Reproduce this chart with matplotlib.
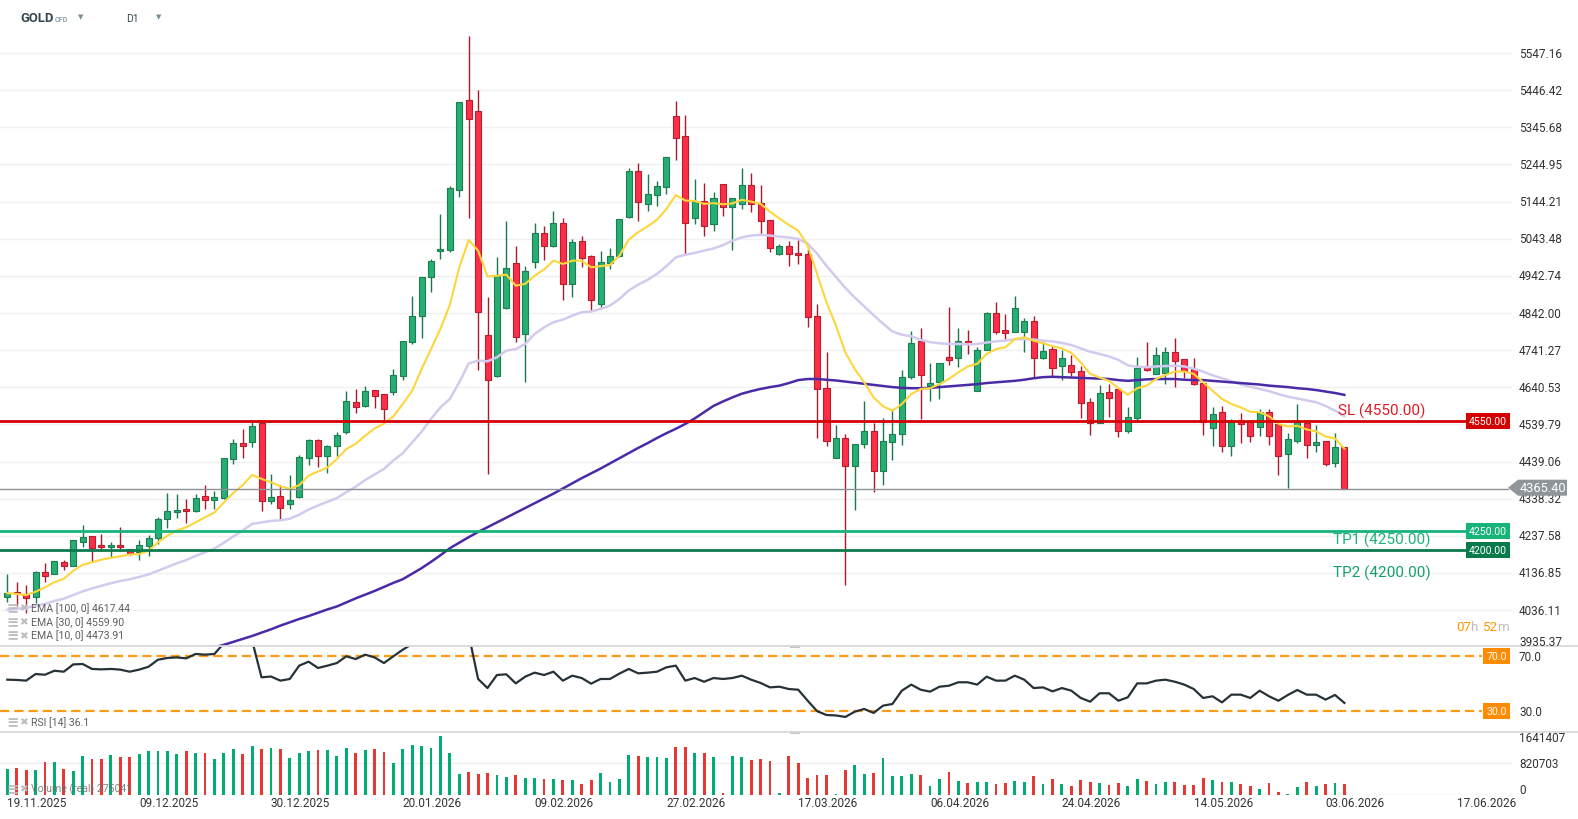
import numpy as np
import matplotlib
matplotlib.use("Agg")
import matplotlib.pyplot as plt
from matplotlib.transforms import blended_transform_factory as blend
from matplotlib.patches import Polygon, Rectangle

plt.rcParams['font.family'] = ['Roboto', 'DejaVu Sans']

# ---- data (daily candles, bar index 0 = 19.11.2025) ----
opens = [4071, 4086, 4080, 4073, 4140, 4134, 4166, 4157, 4222, 4237,
         4212, 4206, 4213, 4201, 4193, 4210, 4231, 4282, 4301, 4310,
         4304, 4345, 4334, 4339, 4446, 4489, 4493, 4544, 4333, 4345,
         4324, 4343, 4449, 4497, 4454, 4480, 4520, 4600, 4589, 4632,
         4621, 4627, 4670, 4762, 4833, 4939, 5009, 5012, 5176, 5420,
         5390, 4782, 4672, 4855, 4977, 4785, 4979, 5058, 5023, 5085,
         4922, 5036, 4996, 4866, 4978, 4996, 5103, 5226, 5139, 5161,
         5183, 5375, 5321, 5099, 5145, 5083, 5191, 5129, 5138, 5189,
         5140, 5095, 5002, 5025, 5004, 5001, 4833, 4638, 4448, 4502,
         4426, 4486, 4521, 4413, 4491, 4513, 4669, 4765, 4645, 4654,
         4722, 4719, 4767, 4631, 4743, 4841, 4797, 4790, 4790, 4821,
         4719, 4744, 4697, 4701, 4684, 4600, 4544, 4627, 4636, 4523,
         4556, 4695, 4677, 4680, 4735, 4717, 4690, 4651, 4529, 4573,
         4482, 4550, 4546, 4532, 4573, 4541, 4459, 4496, 4543, 4485,
         4495, 4435, 4478]
highs = [4134, 4113, 4103, 4143, 4163, 4170, 4172, 4226, 4267, 4238,
         4243, 4220, 4262, 4201, 4225, 4240, 4289, 4353, 4351, 4338,
         4350, 4376, 4360, 4449, 4500, 4527, 4553, 4552, 4405, 4376,
         4403, 4457, 4499, 4500, 4484, 4520, 4630, 4636, 4643, 4632,
         4621, 4690, 4765, 4889, 4939, 4988, 5110, 5187, 5413, 5594,
         5447, 4886, 4993, 5091, 5023, 4969, 5086, 5079, 5119, 5100,
         5044, 5050, 4999, 5010, 5019, 5096, 5235, 5249, 5219, 5201,
         5264, 5417, 5379, 5205, 5194, 5171, 5191, 5153, 5234, 5222,
         5189, 5095, 5030, 5037, 5041, 5016, 4866, 4737, 4538, 4514,
         4488, 4603, 4544, 4556, 4582, 4688, 4793, 4801, 4706, 4706,
         4858, 4800, 4796, 4749, 4846, 4871, 4838, 4887, 4828, 4833,
         4763, 4752, 4743, 4728, 4699, 4611, 4647, 4649, 4636, 4586,
         4722, 4764, 4749, 4749, 4773, 4717, 4719, 4651, 4586, 4591,
         4555, 4571, 4546, 4582, 4582, 4541, 4517, 4595, 4543, 4539,
         4495, 4517, 4478]
lows = [4059, 4048, 4028, 4056, 4113, 4133, 4146, 4155, 4208, 4166,
        4197, 4181, 4197, 4185, 4173, 4184, 4215, 4259, 4287, 4272,
        4303, 4310, 4310, 4338, 4432, 4450, 4478, 4306, 4324, 4281,
        4311, 4341, 4430, 4424, 4409, 4455, 4515, 4571, 4588, 4583,
        4544, 4620, 4661, 4758, 4773, 4900, 4988, 5007, 5156, 5101,
        4688, 4404, 4668, 4853, 4762, 4656, 4965, 4987, 5020, 4878,
        4886, 4966, 4847, 4856, 4960, 4994, 5099, 5092, 5119, 5131,
        5165, 5258, 5000, 5083, 5052, 5064, 5106, 5014, 5124, 5117,
        5057, 5008, 4998, 4969, 4974, 4805, 4504, 4480, 4448, 4103,
        4309, 4475, 4356, 4376, 4444, 4485, 4663, 4555, 4602, 4609,
        4701, 4695, 4731, 4631, 4743, 4785, 4772, 4790, 4737, 4668,
        4716, 4672, 4659, 4670, 4556, 4512, 4544, 4559, 4505, 4517,
        4547, 4686, 4677, 4649, 4640, 4665, 4647, 4511, 4482, 4466,
        4455, 4489, 4491, 4508, 4484, 4403, 4366, 4489, 4449, 4466,
        4428, 4425, 4365.4]
closes = [4082, 4083, 4068, 4140, 4130, 4169, 4157, 4225, 4234, 4205,
          4206, 4212, 4206, 4190, 4213, 4232, 4283, 4304, 4308, 4304,
          4341, 4334, 4342, 4448, 4489, 4480, 4535, 4333, 4343, 4314,
          4335, 4452, 4497, 4453, 4481, 4511, 4603, 4586, 4630, 4616,
          4581, 4673, 4765, 4833, 4939, 4982, 5016, 5180, 5413, 5368,
          4846, 4660, 4946, 4963, 4776, 4955, 5058, 5023, 5085, 4920,
          5034, 4990, 4876, 4979, 4996, 5096, 5226, 5142, 5165, 5186,
          5264, 5318, 5085, 5147, 5077, 5153, 5129, 5153, 5189, 5138,
          5092, 5017, 5025, 5001, 4998, 4830, 4636, 4494, 4502, 4426,
          4488, 4521, 4413, 4494, 4513, 4668, 4760, 4675, 4651, 4706,
          4715, 4767, 4758, 4741, 4842, 4790, 4789, 4855, 4821, 4719,
          4740, 4692, 4719, 4681, 4597, 4543, 4624, 4611, 4521, 4559,
          4692, 4687, 4727, 4735, 4713, 4686, 4649, 4546, 4568, 4480,
          4546, 4541, 4508, 4573, 4508, 4455, 4500, 4548, 4485, 4491,
          4433, 4478, 4365.4]

ema10 = [4082, 4080, 4077, 4086, 4098, 4112, 4121, 4143, 4159, 4166,
         4173, 4178, 4182, 4187, 4188, 4197, 4220, 4238, 4252, 4261,
         4274, 4288, 4301, 4328, 4354, 4375, 4403, 4392, 4383, 4372,
         4365, 4375, 4401, 4412, 4423, 4446, 4473, 4487, 4509, 4529,
         4542, 4562, 4595, 4631, 4690, 4744, 4799, 4864, 4966, 5040,
         5011, 4941, 4943, 4946, 4916, 4921, 4943, 4960, 4984, 4975,
         4984, 4984, 4966, 4969, 4972, 4997, 5041, 5061, 5077, 5095,
         5124, 5162, 5147, 5146, 5138, 5140, 5137, 5139, 5149, 5144,
         5138, 5117, 5098, 5081, 5065, 5025, 4948, 4871, 4808, 4735,
         4690, 4654, 4613, 4589, 4577, 4595, 4622, 4636, 4638, 4649,
         4663, 4681, 4697, 4704, 4731, 4744, 4749, 4771, 4776, 4767,
         4760, 4752, 4746, 4734, 4708, 4677, 4667, 4658, 4638, 4620,
         4638, 4645, 4663, 4674, 4683, 4683, 4677, 4654, 4631, 4609,
         4595, 4586, 4574, 4573, 4562, 4541, 4534, 4536, 4526, 4521,
         4507, 4502, 4474]
ema30 = [4037, 4040, 4042, 4048, 4053, 4061, 4067, 4077, 4087, 4095,
         4102, 4109, 4115, 4120, 4126, 4133, 4143, 4153, 4163, 4172,
         4183, 4193, 4203, 4219, 4236, 4252, 4270, 4274, 4278, 4280,
         4284, 4295, 4309, 4320, 4330, 4340, 4356, 4371, 4389, 4404,
         4419, 4442, 4462, 4491, 4520, 4555, 4586, 4609, 4654, 4705,
         4713, 4711, 4722, 4740, 4744, 4758, 4785, 4803, 4817, 4824,
         4835, 4844, 4846, 4853, 4862, 4880, 4903, 4919, 4932, 4948,
         4969, 4993, 5000, 5005, 5011, 5017, 5026, 5038, 5047, 5052,
         5054, 5052, 5049, 5047, 5043, 5030, 5003, 4970, 4940, 4910,
         4884, 4860, 4836, 4813, 4792, 4783, 4779, 4769, 4763, 4760,
         4758, 4758, 4757, 4758, 4762, 4765, 4767, 4771, 4771, 4770,
         4767, 4765, 4761, 4755, 4746, 4737, 4731, 4724, 4715, 4700,
         4696, 4695, 4697, 4698, 4699, 4697, 4691, 4683, 4673, 4665,
         4657, 4648, 4642, 4636, 4630, 4622, 4615, 4610, 4605, 4600,
         4590, 4577, 4562]
ema100_start = 22
ema100 = [3935, 3942, 3950, 3958, 3966, 3975, 3984, 3994, 4003, 4012,
          4020, 4029, 4038, 4046, 4057, 4068, 4078, 4088, 4099, 4110,
          4120, 4135, 4150, 4167, 4185, 4204, 4219, 4234, 4248, 4261,
          4274, 4287, 4300, 4313, 4326, 4339, 4352, 4366, 4380, 4394,
          4407, 4420, 4434, 4448, 4462, 4476, 4489, 4503, 4516, 4528,
          4541, 4556, 4573, 4590, 4602, 4613, 4623, 4630, 4636, 4641,
          4645, 4652, 4660, 4663, 4663, 4661, 4659, 4656, 4653, 4650,
          4647, 4644, 4641, 4639, 4638, 4638, 4639, 4641, 4643, 4645,
          4647, 4649, 4652, 4654, 4656, 4658, 4661, 4665, 4668, 4669,
          4668, 4667, 4666, 4665, 4664, 4663, 4660, 4658, 4660, 4662,
          4663, 4663, 4663, 4661, 4660, 4660, 4658, 4656, 4654, 4652,
          4650, 4648, 4645, 4643, 4641, 4638, 4636, 4633, 4629, 4625,
          4620]

rsi = [53.0, 52.8, 52.3, 57.1, 56.6, 59.5, 58.8, 64.1, 64.4, 60.8,
       60.5, 60.8, 60.3, 58.8, 60.3, 62.4, 67.5, 68.8, 69.2, 68.5,
       71.7, 71.2, 71.7, 79.5, 81.0, 79.0, 81.4, 54.7, 55.3, 52.3,
       53.5, 63.2, 66.1, 61.5, 63.2, 65.1, 70.0, 68.0, 71.2, 69.2,
       65.1, 70.0, 74.8, 79.0, 83.0, 84.0, 84.0, 87.0, 91.0, 86.0,
       53.5, 46.9, 56.4, 56.9, 50.3, 55.2, 58.1, 56.4, 58.8, 52.3,
       55.9, 54.2, 50.1, 53.5, 53.5, 57.4, 60.8, 57.6, 58.1, 58.8,
       62.0, 63.2, 52.3, 54.2, 51.5, 54.2, 53.5, 54.2, 55.9, 53.0,
       50.6, 47.4, 47.9, 46.2, 45.7, 37.7, 30.1, 27.3, 27.0, 25.9,
       29.7, 31.7, 28.8, 34.1, 35.3, 45.0, 49.4, 45.7, 44.3, 47.9,
       48.6, 51.1, 51.1, 49.4, 55.2, 52.3, 52.3, 55.9, 53.0, 46.9,
       47.4, 44.5, 46.9, 45.0, 39.7, 37.0, 43.1, 43.1, 37.7, 40.2,
       50.3, 50.3, 52.3, 53.0, 51.5, 49.4, 46.2, 39.7, 40.9, 36.5,
       42.1, 42.1, 39.7, 45.0, 40.9, 37.7, 41.9, 45.5, 42.1, 42.1,
       38.5, 41.9, 36.1]

volume = [665, 691, 640, 640, 847, 847, 665, 614, 1002, 924,
          924, 1028, 976, 976, 1054, 1131, 1131, 1131, 1054, 1131,
          1080, 1080, 924, 1080, 1183, 1054, 1261, 1183, 1209, 1183,
          950, 1080, 1131, 1157, 1157, 1002, 1209, 1080, 1157, 1183,
          1105, 821, 1183, 1287, 1261, 1209, 1520, 1080, 536, 588,
          536, 562, 510, 458, 510, 432, 432, 406, 406, 381,
          381, 277, 381, 562, 329, 406, 1028, 1002, 976, 976,
          950, 1235, 1235, 1080, 1080, 976, 44, 1002, 976, 898,
          924, 872, 44, 1002, 821, 432, 510, 510, 18, 639,
          769, 536, 562, 950, 484, 484, 536, 510, 225, 406,
          588, 355, 303, 329, 329, 277, 303, 355, 329, 484,
          277, 406, 277, 225, 381, 329, 303, 251, 303, 225,
          406, 355, 277, 329, 329, 251, 251, 432, 381, 329,
          329, 277, 225, 148, 303, 70, 18, 199, 329, 225,
          277, 303, 275.041]  # thousands

date_labels = ['19.11.2025', '09.12.2025', '30.12.2025', '20.01.2026', '09.02.2026', '27.02.2026',
               '17.03.2026', '06.04.2026', '24.04.2026', '14.05.2026', '03.06.2026', '17.06.2026']
date_idx = [0, 14, 28, 42, 56, 70, 84, 98, 112, 126, 140, 154]

price_ticks = [5547.16, 5446.42, 5345.68, 5244.95, 5144.21, 5043.48, 4942.74, 4842.00,
               4741.27, 4640.53, 4539.79, 4439.06, 4338.32, 4237.58, 4136.85, 4036.11, 3935.37]
last_price = 4365.40
sl_level, tp1_level, tp2_level = 4550.00, 4250.00, 4200.00

# ---- layout helpers (pixel -> figure fraction) ----
W, H = 1578, 820
def fx(px):
    return px / W
def fy(py):
    return 1 - py / H
def bar_at(px):
    return (px - 7.3) / 9.417

fig = plt.figure(figsize=(W / 100, H / 100), dpi=100)
fig.patch.set_facecolor('white')

ax = fig.add_axes([0, fy(647), fx(1512), fy(30) - fy(647)])
ax_rsi = fig.add_axes([0, fy(733.3), fx(1512), fy(647) - fy(733.3)])
ax_vol = fig.add_axes([0, fy(795.7), fx(1512), fy(733.3) - fy(795.7)])
for a in (ax, ax_rsi, ax_vol):
    a.set_xlim(-0.775, 159.8)
    a.set_facecolor('none')
    a.set_axis_off()
ax.set_ylim(3938.8, 5612.3)
ax_rsi.set_ylim(14.73, 77.49)
ax_vol.set_ylim(0, 1615.5)

o = np.array(opens, float)
h = np.array(highs, float)
l = np.array(lows, float)
c = np.array(closes, float)
x = np.arange(len(c))
up = c >= o

# grid
for v in price_ticks:
    ax.axhline(v, color='#f0f0f0', lw=1, zorder=0)
ax_vol.axhline(820.703, color='#f0f0f0', lw=1, zorder=0)
ax_vol.axhline(0, color='#e4e4e4', lw=1, zorder=0)

# candles
wick_col = np.where(up, '#187a4b', '#a8192b')
body_col = np.where(up, '#27ae72', '#fd2f48')
edge_col = np.where(up, '#1c7d50', '#b81d2e')
ax.vlines(x, l, h, colors=wick_col, lw=1.0, zorder=2)
ax.bar(x, np.maximum(np.abs(c - o), 2.5), bottom=np.minimum(o, c), width=0.64,
       color=body_col, edgecolor=edge_col, linewidth=0.8, zorder=3)

# EMAs
ax.plot(x, ema30, color='#d3caee', lw=1.8, zorder=4, solid_capstyle='round')
ax.plot(np.arange(ema100_start, ema100_start + len(ema100)), ema100, color='#4a2aa6', lw=1.8, zorder=4)
ax.plot(x, ema10, color='#fdd63b', lw=1.5, zorder=5)

# horizontal levels
btr = blend(fig.transFigure, ax.transData)
x0 = -0.775
ax.plot([x0, bar_at(1465)], [sl_level] * 2, color='#d50000', lw=2, zorder=6)
ax.plot([x0, bar_at(1465)], [tp1_level] * 2, color='#17b47a', lw=2, zorder=6)
ax.plot([x0, bar_at(1465)], [tp2_level] * 2, color='#0b7a4c', lw=2, zorder=6)
ax.plot([x0, bar_at(1508)], [last_price] * 2, color='#8c9094', lw=1, zorder=6)

for lvl, col in ((sl_level, '#d50000'), (tp1_level, '#17b47a'), (tp2_level, '#087a4c')):
    ax.text(fx(1488), lvl, f'{lvl:.2f}', transform=btr, ha='center', va='center',
            color='white', fontsize=7.6, zorder=8,
            bbox=dict(boxstyle='square,pad=0.28', fc=col, ec='none'))

ax.text(bar_at(1338), 4579, f'SL ({sl_level:.2f})', color='#dc1c24', fontsize=11, va='center', zorder=8)
ax.text(bar_at(1333), 4229, f'TP1 ({tp1_level:.2f})', color='#1fb27a', fontsize=11, va='center', zorder=8)
ax.text(bar_at(1333), 4138, f'TP2 ({tp2_level:.2f})', color='#14a06a', fontsize=11, va='center', zorder=8)

# right price scale
for v in price_ticks[:-1]:
    ax.text(fx(1519), v, f'{v:.2f}', transform=btr, ha='left', va='center', fontsize=8.5, color='#333333')
fig.text(fx(1519), fy(642), f'{price_ticks[-1]:.2f}', ha='left', va='center', fontsize=8.5, color='#333333')

# last price tag
tag = [(1508, 488.7), (1518, 480.7), (1567, 480.7), (1567, 496.7), (1518, 496.7)]
fig.add_artist(Polygon([(fx(px), fy(py)) for px, py in tag], closed=True, fc='#8f9599', ec='none',
                       transform=fig.transFigure, zorder=10))
fig.text(fx(1542.5), fy(488.7), f'{last_price:.2f}', ha='center', va='center', fontsize=9.2,
         color='white', zorder=11)

# countdown
for s, px, col in (('07', 1456, '#ff9800'), ('h', 1470.5, '#bdbdbd'), ('52', 1482.5, '#ff9800'), ('m', 1497.5, '#bdbdbd')):
    fig.text(fx(px), fy(627.5), s, ha='left', va='center', fontsize=9.6, color=col)

# EMA legend
legend = [('EMA [100, 0] 4617.44', 608.3), ('EMA [30, 0] 4559.90', 622.3), ('EMA [10, 0] 4473.91', 636)]
def legend_row(label, py, color='#5f5f5f', alpha=1.0):
    fig.text(fx(6.5), fy(py), '\u2261', ha='left', va='center', fontsize=10.5, color='#bdbdbd',
             family=['DejaVu Sans'], fontweight='bold')
    fig.text(fx(19.5), fy(py), '\u2716', ha='left', va='center', fontsize=7.5, color='#bdbdbd',
             family=['DejaVu Sans'])
    fig.text(fx(31), fy(py), label, ha='left', va='center', fontsize=7.6, color=color, alpha=alpha)
for lab, py in legend:
    legend_row(lab, py)

# RSI panel
ax_rsi.plot(x, rsi, color='#263238', lw=1.6, zorder=3)
for lvl in (70, 30):
    ax_rsi.plot([x0, bar_at(1482)], [lvl, lvl], color='#ff8f00', lw=1.6, dashes=(4.2, 2.2), zorder=2, alpha=0.9)
    ax_rsi.text(fx(1496.5), lvl, f'{lvl:.1f}', transform=blend(fig.transFigure, ax_rsi.transData),
                ha='center', va='center', color='white', fontsize=7.6,
                bbox=dict(boxstyle='square,pad=0.28', fc='#ff8c00', ec='none'))
    ax_rsi.text(fx(1519), lvl, f'{lvl:.1f}', transform=blend(fig.transFigure, ax_rsi.transData),
                ha='left', va='center', fontsize=8.5, color='#333333')
legend_row(f'RSI [14] {rsi[-1]:.1f}', 722.7)

# volume panel
vol_col = np.where(up, '#00ad72', '#e53935')
ax_vol.bar(x, volume, width=0.3, color=vol_col, zorder=2)
for lab, py in (('1641407', 739), ('820703', 765), ('0', 791)):
    fig.text(fx(1519), fy(py), lab, ha='left', va='center', fontsize=8.5, color='#333333')
legend_row(f'Volume (real) {int(round(volume[-1] * 1000))}', 789.3, color='#6f6f6f', alpha=0.85)

# panel separators and handles
for py in (647, 733.3):
    fig.add_artist(plt.Line2D([0, 1], [fy(py), fy(py)], color='#d9d9d9', lw=1.3, transform=fig.transFigure))
    fig.add_artist(Rectangle((fx(790), fy(py + 1.5)), fx(10), 3 / H, fc='#c4c4c4', ec='none',
                             transform=fig.transFigure))

# date axis
dtr = blend(ax_vol.transData, fig.transFigure)
for lab, i in zip(date_labels, date_idx):
    ax_vol.text(i, fy(803.3), lab, transform=dtr, ha='left', va='center', fontsize=8.5, color='#333333')

# header
fig.text(fx(20.5), fy(18.3), 'GOLD', ha='left', va='center', fontsize=9.4, fontweight='bold', color='#37474f')
fig.text(fx(55), fy(19.5), 'CFD', ha='left', va='center', fontsize=5.2, fontweight='bold', color='#90a4ae')
fig.text(fx(80.5), fy(17), '\u25BC', ha='center', va='center', fontsize=5, color='#78909c', family=['DejaVu Sans'])
fig.text(fx(126), fy(18.5), 'D1', ha='left', va='center', fontsize=7.5, color='#37474f')
fig.text(fx(159), fy(17), '\u25BC', ha='center', va='center', fontsize=5, color='#78909c', family=['DejaVu Sans'])

fig.savefig('out.png', dpi=100, facecolor='white')
